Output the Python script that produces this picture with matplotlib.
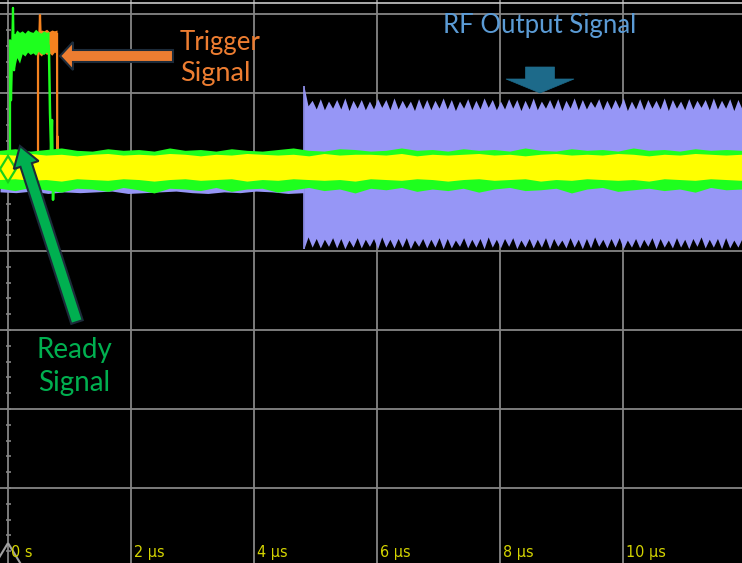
import numpy as np
import matplotlib
matplotlib.use("Agg")
import matplotlib.pyplot as plt
import matplotlib.transforms as mtransforms
from matplotlib.patches import FancyArrow, Polygon

# ---------------- data (time in µs, amplitude in divisions) ----------------
x_grid = [0, 2, 4, 6, 8, 10]
x_tick_labels = ["0 s", "2 µs", "4 µs", "6 µs", "8 µs", "10 µs"]
y_grid = [-5, -4, -3, -2, -1, 0, 1, 2]

# RF output burst (purple): start/stop and envelope teeth
rf_start, rf_end = 4.81, 11.93
rf_top_peaks = [1.09, 0.91, 0.93, 0.90, 0.92, 0.94, 0.91, 0.92, 0.90, 0.93, 0.92, 0.94, 0.91, 0.90,
                0.93, 0.92, 0.91, 0.94, 0.92, 0.90, 0.93, 0.91, 0.94, 0.92, 0.90, 0.93, 0.92, 0.91,
                0.94, 0.90, 0.92, 0.93, 0.91, 0.94, 0.92, 0.90, 0.93, 0.91, 0.92, 0.94, 0.90, 0.93,
                0.92, 0.91, 0.94, 0.92, 0.90, 0.93, 0.91, 0.92, 0.94, 0.91, 0.93, 0.92]
rf_top_troughs = [0.84, 0.80, 0.79, 0.81, 0.80, 0.78, 0.81, 0.79, 0.80, 0.82, 0.79, 0.80, 0.81, 0.78,
                  0.80, 0.79, 0.81, 0.80, 0.78, 0.81, 0.79, 0.80, 0.82, 0.79, 0.80, 0.81, 0.78, 0.80,
                  0.79, 0.81, 0.80, 0.78, 0.81, 0.79, 0.80, 0.82, 0.79, 0.80, 0.81, 0.78, 0.80, 0.79,
                  0.81, 0.80, 0.78, 0.81, 0.79, 0.80, 0.82, 0.79, 0.80, 0.81, 0.78, 0.80]
rf_bot_peaks = [-0.97, -0.95, -0.96, -0.94, -0.96, -0.97, -0.95, -0.96, -0.94, -0.97, -0.95, -0.96,
                -0.95, -0.97, -0.94, -0.96, -0.95, -0.97, -0.96, -0.94, -0.96, -0.95, -0.97, -0.95,
                -0.96, -0.94, -0.97, -0.95, -0.96, -0.95, -0.97, -0.94, -0.96, -0.95, -0.97, -0.96,
                -0.94, -0.96, -0.95, -0.97, -0.95, -0.96, -0.94, -0.97, -0.95, -0.96, -0.95, -0.97,
                -0.94, -0.96, -0.95, -0.97, -0.96, -0.95]
rf_bot_troughs = [-0.82, -0.84, -0.85, -0.83, -0.84, -0.86, -0.83, -0.85, -0.84, -0.82, -0.85, -0.84,
                  -0.83, -0.86, -0.84, -0.85, -0.83, -0.84, -0.86, -0.83, -0.85, -0.84, -0.82, -0.85,
                  -0.84, -0.83, -0.86, -0.84, -0.85, -0.83, -0.84, -0.86, -0.83, -0.85, -0.84, -0.82,
                  -0.85, -0.84, -0.83, -0.86, -0.84, -0.85, -0.83, -0.84, -0.86, -0.83, -0.85, -0.84,
                  -0.82, -0.85, -0.84, -0.83, -0.86, -0.84]

# purple baseline before the burst (lower edge)
purple_pre_lo = [-0.25, -0.26, -0.24, -0.27, -0.25, -0.26, -0.25, -0.24, -0.27, -0.26,
                 -0.25, -0.24, -0.26, -0.27, -0.25, -0.26, -0.24, -0.25, -0.27, -0.26]

# baseline noise bands (yellow and green channels)
yellow_hi = [0.22, 0.21, 0.23, 0.21, 0.22, 0.20, 0.22, 0.23, 0.21, 0.22, 0.21, 0.23, 0.22, 0.20,
             0.22, 0.21, 0.23, 0.22, 0.21, 0.22, 0.20, 0.23, 0.21, 0.22, 0.22, 0.21, 0.23, 0.20,
             0.22, 0.21, 0.22, 0.23, 0.21, 0.22, 0.20, 0.22, 0.23, 0.21, 0.22, 0.21, 0.23, 0.22,
             0.20, 0.22, 0.21, 0.23, 0.22, 0.21, 0.22]
yellow_lo = [-0.10, -0.09, -0.11, -0.10, -0.12, -0.09, -0.10, -0.11, -0.09, -0.10, -0.12, -0.10,
             -0.09, -0.11, -0.10, -0.09, -0.12, -0.10, -0.11, -0.09, -0.10, -0.11, -0.10, -0.12,
             -0.09, -0.10, -0.11, -0.09, -0.10, -0.12, -0.10, -0.09, -0.11, -0.10, -0.09, -0.12,
             -0.10, -0.11, -0.09, -0.10, -0.11, -0.10, -0.12, -0.09, -0.10, -0.11, -0.09, -0.10, -0.11]
green_hi = [0.27, 0.29, 0.26, 0.28, 0.30, 0.27, 0.26, 0.29, 0.27, 0.28, 0.26, 0.30, 0.27, 0.28,
            0.26, 0.29, 0.27, 0.26, 0.28, 0.30, 0.27, 0.26, 0.29, 0.28, 0.26, 0.27, 0.30, 0.27,
            0.28, 0.26, 0.29, 0.27, 0.28, 0.26, 0.30, 0.27, 0.26, 0.29, 0.27, 0.28, 0.26, 0.30,
            0.27, 0.28, 0.26, 0.29, 0.27, 0.28, 0.27]
green_lo = [-0.21, -0.24, -0.20, -0.23, -0.26, -0.21, -0.22, -0.25, -0.20, -0.23, -0.27, -0.21,
            -0.22, -0.24, -0.20, -0.25, -0.22, -0.21, -0.26, -0.23, -0.20, -0.24, -0.22, -0.27,
            -0.21, -0.23, -0.20, -0.25, -0.22, -0.24, -0.21, -0.26, -0.22, -0.20, -0.24, -0.23,
            -0.21, -0.27, -0.22, -0.20, -0.25, -0.23, -0.21, -0.24, -0.22, -0.26, -0.20, -0.23, -0.22]

# Ready pulse (green)
ready_plat_t0, ready_plat_t1 = 0.10, 0.667
ready_plat_hi = [1.74, 1.80, 1.77, 1.79, 1.76, 1.80, 1.78, 1.77, 1.81, 1.78, 1.76, 1.79, 1.77, 1.78]
ready_plat_lo = [1.30, 1.45, 1.38, 1.50, 1.47, 1.52, 1.49, 1.51, 1.48, 1.53, 1.50, 1.49, 1.52, 1.50]
ready_edge_t = [0.000, 0.033, 0.033, 0.049, 0.065, 0.081, 0.098, 0.114]
ready_edge_y = [0.00, 0.00, 1.67, 0.91, 1.42, 2.08, 1.29, 1.73]
ready_fall_t = [0.660, 0.667, 0.683, 0.700, 0.715, 0.732, 0.748, 0.764]
ready_fall_y = [1.60, 1.50, 0.75, 0.28, 0.66, -0.35, 0.15, 0.00]

# Trigger pulse (orange)
trig_plat_t0, trig_plat_t1 = 0.50, 0.797
trig_plat_hi = [1.78, 1.80, 1.79, 1.81, 1.78, 1.80, 1.79, 1.80]
trig_plat_lo = [1.50, 1.47, 1.52, 1.49, 1.51, 1.48, 1.52, 1.50]
trig_edge_t = [0.470, 0.488, 0.488, 0.505, 0.520, 0.537, 0.550]
trig_edge_y = [0.00, 0.00, 1.46, 1.60, 1.99, 1.55, 1.70]
trig_fall_t = [0.797, 0.800, 0.806, 0.813, 0.830]
trig_fall_y = [1.75, 0.30, 0.45, 0.05, 0.00]

# channel level marker (green channel offset)
level_marker_y = 0.04

# ---------------- style ----------------
PURPLE = "#9696F6"
YELLOW = "#FFFF00"
GREEN = "#1EFF1E"
ORANGE = "#F5821F"
GRID = "#858585"

W, H = 742, 563
fig = plt.figure(figsize=(W / 100, H / 100), dpi=100, facecolor="black")
ax = fig.add_axes([0, 0, 1, 1])
ax.set_facecolor("black")
ax.set_xlim(-0.13, 11.93)
ax.set_ylim(-4.95, 2.18)
ax.set_axis_off()

# pixel coordinates (origin top-left) for overlay annotations
pix = mtransforms.Affine2D().scale(1 / W, -1 / H).translate(0, 1) + ax.transAxes

# grid
for t in x_grid:
    ax.axvline(t, color=GRID, lw=1.3, zorder=0)
for y in y_grid:
    ax.axhline(y, color=GRID, lw=1.3, zorder=0)
ax.axhline(2.14, color="#C8C8C8", lw=1.2, zorder=0)
ax.hlines(np.arange(-5, 2.01, 0.2), -0.04, 0.05, color=GRID, lw=1.2, zorder=0)

# purple channel
pre_t = np.linspace(-0.13, rf_start, len(purple_pre_lo))
ax.fill_between(pre_t, purple_pre_lo, 0.1, color=PURPLE, lw=0, zorder=1)
rf_top = [v for p, q in zip(rf_top_peaks, rf_top_troughs) for v in (p, q)]
rf_bot = [v for p, q in zip(rf_bot_peaks, rf_bot_troughs) for v in (p, q)]
rf_t_top = np.linspace(rf_start, rf_end, len(rf_top))
rf_t_bot = np.linspace(rf_start, rf_end, len(rf_bot))
ax.fill_between(rf_t_top, 0, rf_top, color=PURPLE, lw=0, zorder=1)
ax.fill_between(rf_t_bot, rf_bot, 0, color=PURPLE, lw=0, zorder=1)
ax.vlines(rf_start, rf_bot[0], rf_top[0], color=PURPLE, lw=1.2, zorder=1)

# trigger pulse
tp_t = np.linspace(trig_plat_t0, trig_plat_t1, len(trig_plat_hi))
ax.fill_between(tp_t, trig_plat_lo, trig_plat_hi, color=ORANGE, lw=0, zorder=2)
ax.plot(trig_edge_t, trig_edge_y, color=ORANGE, lw=1.6, zorder=2)
ax.plot(trig_fall_t, trig_fall_y, color=ORANGE, lw=1.6, zorder=2)

# green channel
g_t = np.linspace(-0.13, 11.93, len(green_hi))
ax.fill_between(g_t, green_lo, green_hi, color=GREEN, lw=0, zorder=3)
rp_t = np.linspace(ready_plat_t0, ready_plat_t1, len(ready_plat_hi))
ax.fill_between(rp_t, ready_plat_lo, ready_plat_hi, color=GREEN, lw=0, zorder=3)
ax.plot(ready_edge_t, ready_edge_y, color=GREEN, lw=1.6, zorder=3)
ax.plot(ready_fall_t, ready_fall_y, color=GREEN, lw=1.8, zorder=3)

# yellow channel
y_t = np.linspace(-0.13, 11.93, len(yellow_hi))
ax.fill_between(y_t, yellow_lo, yellow_hi, color=YELLOW, lw=0, zorder=4)

# markers
ax.plot([0], [level_marker_y], marker="d", ms=13, mfc="none", mec="#18D018", mew=1.6, zorder=6)
ax.add_patch(Polygon([(8, 543), (-6, 566), (22, 566)], closed=True, fill=False,
                     ec="#A0A0A0", lw=1.5, transform=pix, zorder=6))

# tick labels
for t, lab in zip(x_grid, x_tick_labels):
    ax.text(t + 0.05, -4.88, lab, color="#D4D400", fontsize=11.5, family="DejaVu Sans",
            fontstretch="condensed", ha="left", va="baseline", zorder=7)

# annotation arrows
EDGE = "#1C2B3A"
ax.add_patch(FancyArrow(173, 56, -113, 0, width=12, head_width=28, head_length=13,
                        length_includes_head=True, fc="#ED7D31", ec=EDGE, lw=1.5,
                        transform=pix, zorder=9))
ax.add_patch(FancyArrow(540, 67, 0, 26, width=29, head_width=68, head_length=14,
                        length_includes_head=True, fc="#1D6A8A", ec="#1D6A8A", lw=0.5,
                        transform=pix, zorder=9))
ax.add_patch(FancyArrow(77, 322, -57, -176, width=12, head_width=26, head_length=20,
                        length_includes_head=True, fc="#00B050", ec=EDGE, lw=1.5,
                        transform=pix, zorder=9))

# annotation texts
FONT = "Lato"
ax.text(180, 50, "Trigger", transform=pix, color="#ED7D31", fontsize=18.5, family=FONT,
        ha="left", va="baseline", zorder=10)
ax.text(180, 81, "Signal", transform=pix, color="#ED7D31", fontsize=19.5, family=FONT,
        ha="left", va="baseline", zorder=10)
ax.text(540, 33, "RF Output Signal", transform=pix, color="#5B9BD5", fontsize=18.5, family=FONT,
        ha="center", va="baseline", zorder=10)
ax.text(74, 358, "Ready", transform=pix, color="#00B050", fontsize=20, family=FONT,
        ha="center", va="baseline", zorder=10)
ax.text(74, 391, "Signal", transform=pix, color="#00B050", fontsize=20, family=FONT,
        ha="center", va="baseline", zorder=10)

fig.savefig("out.png", dpi=100, facecolor="black")
